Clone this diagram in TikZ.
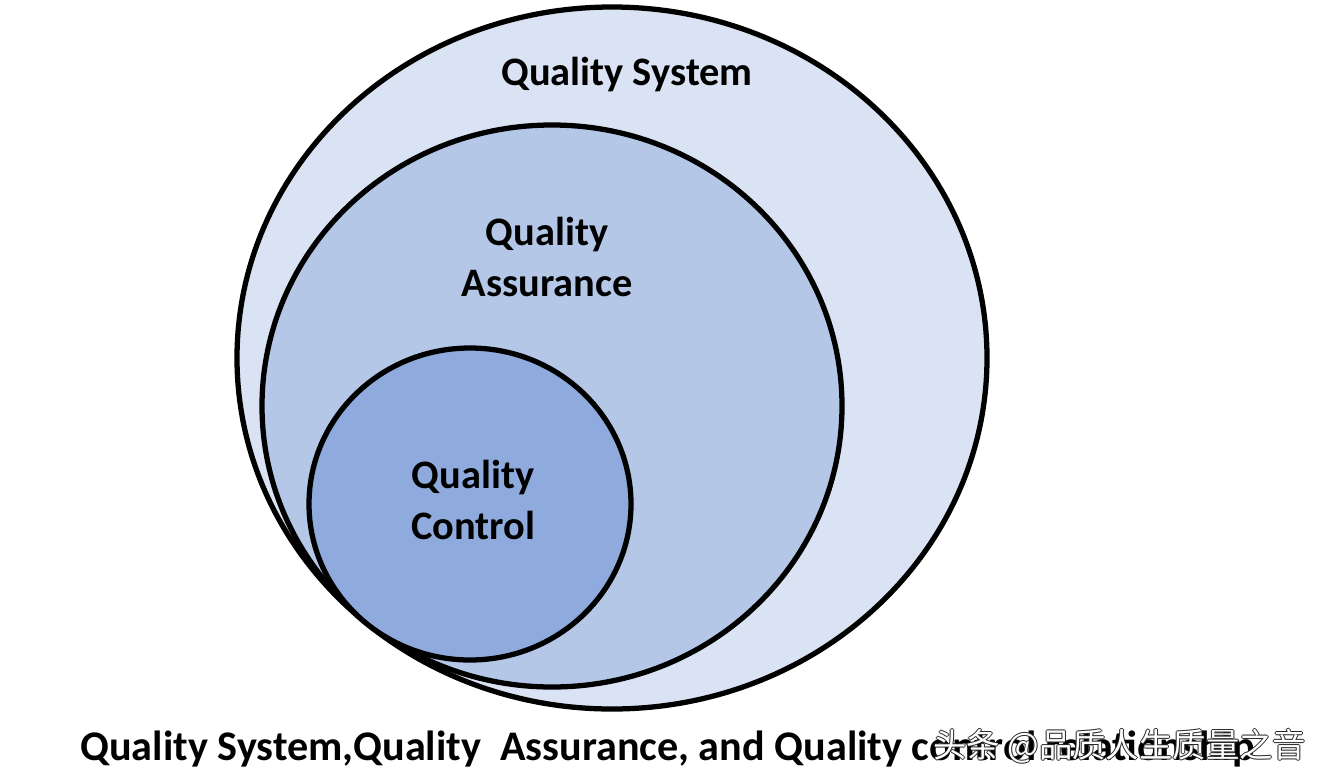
\documentclass[tikz,border=0pt]{standalone}
\usepackage{fontspec}
\setmainfont{Carlito}
\newfontfamily\cjk{Noto Sans CJK SC}
\usetikzlibrary{shapes.geometric}
\definecolor{sysblue}{HTML}{DAE3F3}
\definecolor{qablue}{HTML}{B4C7E7}
\definecolor{qcblue}{HTML}{8FAADC}

\begin{document}
\begin{tikzpicture}[x=0.02cm,y=-0.02cm,
  ring/.style={draw=black,line width=3pt,ellipse,inner sep=0pt},
  ringtext/.style={font=\fontsize{23}{26}\selectfont\bfseries,align=center,inner sep=0pt},
  wmark/.style={font=\cjk\fontsize{19}{22}\selectfont,anchor=base west,inner sep=0pt}]
\useasboundingbox[fill=white] (0,0) rectangle (1332,782);
% Quality System
\node (sys) [ring,fill=sysblue,minimum width=750*0.02cm,minimum height=702*0.02cm] at (612,358) {};
% Quality Assurance
\node (qa) [ring,fill=qablue,minimum width=580*0.02cm,minimum height=562*0.02cm] at (552,406) {};
% Quality Control
\node (qc) [ring,fill=qcblue,minimum width=322*0.02cm,minimum height=312*0.02cm] at (470,504) {};
% labels
\node (sysl) [ringtext] at (627,74) {Quality System};
\node (qal) [ringtext] at (547,257) {Quality\\[3.5pt]Assurance};
\node (qcl) [ringtext] at (473,500) {Quality\\[3.5pt]Control};
\node (cap) [ringtext,font=\fontsize{24}{28}\selectfont\bfseries,anchor=base west] at (80,760) {Quality System,Quality\ \ Assurance, and Quality control relationship};
% watermark
\foreach \dx/\dy [count=\i] in {-1/0,1/0,0/-1,0/1}
  \node (edge\i) [wmark,text=black!85] at (933+\dx,757+\dy) {头条 @品质人生质量之音};
\node (wm) [wmark,text=white] at (933,757) {头条 @品质人生质量之音};
\end{tikzpicture}
\end{document}
